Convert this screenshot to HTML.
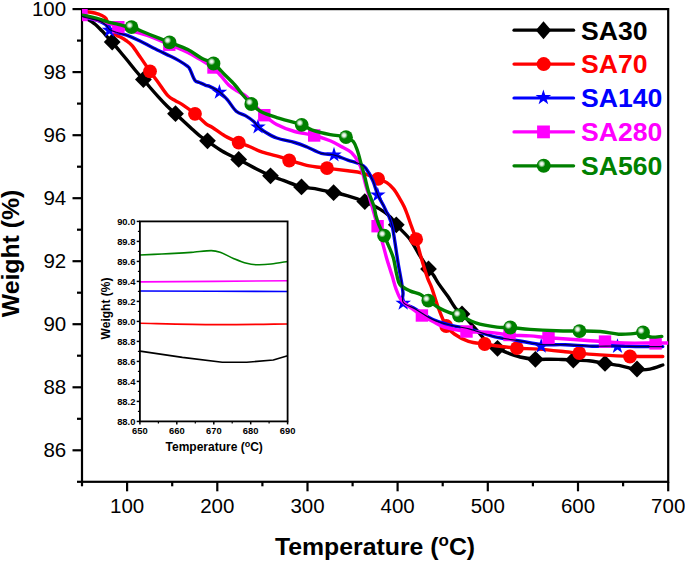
<!DOCTYPE html><html><head><meta charset="utf-8"><style>html,body{margin:0;padding:0;background:#fff;}svg{display:block;}text{font-family:"Liberation Sans",sans-serif;}</style></head><body>
<svg width="685" height="561" viewBox="0 0 685 561">
<defs><radialGradient id="gg" cx="0.36" cy="0.36" r="0.64" fx="0.36" fy="0.36"><stop offset="0" stop-color="#ffffff"/><stop offset="0.18" stop-color="#d8ecd8"/><stop offset="0.42" stop-color="#008000"/><stop offset="1" stop-color="#008000"/></radialGradient>
<clipPath id="pc"><rect x="82.0" y="9.1" width="586.2" height="472.7"/></clipPath></defs>
<rect width="685" height="561" fill="#fff"/>
<rect x="82.0" y="9.1" width="586.2" height="472.7" fill="none" stroke="#000" stroke-width="2.2"/>
<g clip-path="url(#pc)">
<path d="M82.0,16.5 C82.9,16.9 85.2,17.9 87.3,19.1 C89.4,20.3 92.2,21.9 94.6,23.8 C97.0,25.8 99.7,28.6 101.9,30.8 C104.1,33.0 106.0,35.4 107.7,37.3 C109.4,39.2 110.2,39.6 112.2,42.0 C114.2,44.4 117.3,48.2 120.0,51.5 C122.7,54.8 125.7,58.3 128.3,61.5 C130.9,64.7 133.0,67.5 135.5,70.5 C138.0,73.5 140.9,76.6 143.4,79.5 C145.9,82.4 148.0,85.1 150.5,88.0 C153.0,90.9 155.8,94.1 158.6,97.1 C161.3,100.1 164.2,103.2 167.0,106.0 C169.8,108.8 172.5,111.0 175.5,113.7 C178.5,116.5 182.1,119.8 185.0,122.5 C187.9,125.2 190.7,127.8 193.2,130.0 C195.7,132.2 197.6,134.1 200.0,136.0 C202.4,137.9 203.8,138.7 207.5,141.2 C211.2,143.7 216.8,147.9 222.0,151.0 C227.2,154.1 233.0,156.6 238.7,159.5 C244.4,162.4 250.7,166.0 256.0,168.7 C261.3,171.4 265.9,173.6 270.5,175.6 C275.1,177.6 278.2,178.5 283.4,180.4 C288.6,182.3 296.2,185.5 301.5,186.9 C306.8,188.3 310.9,187.9 314.9,188.6 C318.9,189.3 322.3,190.2 325.4,190.9 C328.5,191.6 329.9,191.7 333.6,192.5 C337.3,193.3 342.6,194.3 347.8,195.8 C353.0,197.3 359.5,199.4 364.8,201.6 C370.1,203.8 375.6,206.5 379.9,209.1 C384.2,211.7 387.9,214.5 390.6,217.1 C393.3,219.7 393.1,221.1 396.3,224.8 C399.5,228.5 406.1,234.3 409.9,239.2 C413.6,244.1 415.7,249.1 418.8,254.0 C421.9,258.9 426.0,265.3 428.5,268.9 C431.0,272.5 432.1,273.1 433.7,275.5 C435.3,277.9 436.0,279.9 438.4,283.4 C440.8,286.9 444.9,292.1 447.8,296.3 C450.7,300.5 453.4,305.6 455.8,308.5 C458.2,311.4 459.4,311.2 462.0,313.8 C464.6,316.4 468.2,320.6 471.4,324.2 C474.6,327.8 478.3,332.0 481.4,335.6 C484.5,339.2 487.2,343.5 489.9,345.6 C492.6,347.7 494.6,347.1 497.5,348.3 C500.4,349.5 503.2,351.2 507.0,352.7 C510.8,354.1 515.3,355.9 520.0,357.0 C524.7,358.1 530.3,358.9 535.4,359.3 C540.5,359.7 546.3,359.2 550.7,359.2 C555.1,359.2 558.2,359.4 562.0,359.5 C565.8,359.6 568.8,359.8 573.3,360.0 C577.8,360.2 583.6,360.2 588.9,360.8 C594.2,361.4 599.6,362.6 605.0,363.4 C610.4,364.2 615.7,364.8 621.0,365.8 C626.3,366.8 632.2,368.9 637.0,369.5 C641.8,370.1 645.6,369.9 649.9,369.1 C654.2,368.4 660.6,365.7 662.8,365.0" fill="none" stroke="#000" stroke-width="3.4" stroke-linejoin="round" stroke-linecap="round"/>
<path d="M112.2,33.6L120.6,42.0L112.2,50.4L103.8,42.0Z" fill="#000"/>
<path d="M143.4,71.1L151.8,79.5L143.4,87.9L135.0,79.5Z" fill="#000"/>
<path d="M175.5,105.3L183.9,113.7L175.5,122.1L167.1,113.7Z" fill="#000"/>
<path d="M207.5,132.4L215.9,140.8L207.5,149.2L199.1,140.8Z" fill="#000"/>
<path d="M238.7,151.0L247.1,159.4L238.7,167.8L230.3,159.4Z" fill="#000"/>
<path d="M270.5,167.4L278.9,175.8L270.5,184.2L262.1,175.8Z" fill="#000"/>
<path d="M301.5,178.5L309.9,186.9L301.5,195.3L293.1,186.9Z" fill="#000"/>
<path d="M333.6,184.3L342.0,192.7L333.6,201.1L325.2,192.7Z" fill="#000"/>
<path d="M364.8,193.2L373.2,201.6L364.8,210.0L356.4,201.6Z" fill="#000"/>
<path d="M396.3,216.4L404.7,224.8L396.3,233.2L387.9,224.8Z" fill="#000"/>
<path d="M428.5,260.5L436.9,268.9L428.5,277.3L420.1,268.9Z" fill="#000"/>
<path d="M462.0,305.6L470.4,314.0L462.0,322.4L453.6,314.0Z" fill="#000"/>
<path d="M497.5,339.9L505.9,348.3L497.5,356.7L489.1,348.3Z" fill="#000"/>
<path d="M535.4,350.9L543.8,359.3L535.4,367.7L527.0,359.3Z" fill="#000"/>
<path d="M573.3,351.6L581.7,360.0L573.3,368.4L564.9,360.0Z" fill="#000"/>
<path d="M605.0,355.0L613.4,363.4L605.0,371.8L596.6,363.4Z" fill="#000"/>
<path d="M637.0,360.6L645.4,369.0L637.0,377.4L628.6,369.0Z" fill="#000"/>
</g>
<g clip-path="url(#pc)">
<path d="M82.0,11.5 C82.9,11.6 85.2,11.6 87.3,11.8 C89.4,12.1 92.2,12.4 94.6,13.0 C97.0,13.6 100.0,14.6 101.9,15.5 C103.8,16.4 105.0,17.0 106.0,18.5 C107.0,20.0 107.3,22.4 108.0,24.5 C108.7,26.6 108.6,29.2 110.0,31.0 C111.4,32.8 114.6,34.1 116.5,35.2 C118.4,36.3 119.6,36.6 121.2,37.5 C122.8,38.4 124.2,39.2 126.0,40.5 C127.8,41.8 129.4,42.5 131.9,45.4 C134.4,48.3 137.8,53.6 140.8,57.9 C143.8,62.2 147.0,67.1 150.0,71.3 C153.0,75.5 155.7,78.9 158.6,82.9 C161.5,86.9 164.9,92.4 167.6,95.3 C170.3,98.2 172.6,99.0 175.0,100.5 C177.4,102.0 178.7,102.1 182.0,104.3 C185.3,106.5 191.0,110.5 195.0,113.8 C199.0,117.0 203.1,121.5 206.0,123.8 C208.9,126.1 209.3,125.5 212.5,127.5 C215.7,129.5 220.6,133.5 225.0,136.0 C229.4,138.5 234.5,140.7 238.7,142.5 C242.8,144.3 246.0,145.2 249.9,146.8 C253.8,148.4 257.4,150.5 262.4,152.2 C267.4,153.9 275.5,155.5 280.0,156.8 C284.5,158.1 284.8,158.6 289.2,160.0 C293.6,161.4 300.4,163.9 306.7,165.3 C313.0,166.7 320.1,167.3 327.0,168.2 C333.9,169.1 341.9,170.0 347.8,170.8 C353.7,171.6 357.1,171.8 362.1,173.1 C367.2,174.4 374.0,177.2 378.1,178.8 C382.2,180.4 384.2,181.0 386.8,182.7 C389.4,184.4 391.4,186.4 393.5,188.9 C395.6,191.4 397.5,194.8 399.3,197.8 C401.1,200.8 402.8,203.7 404.2,206.7 C405.6,209.7 406.6,212.6 407.7,215.6 C408.8,218.6 409.4,220.6 410.8,224.5 C412.2,228.4 414.3,233.5 416.1,239.2 C417.9,244.9 419.6,252.3 421.5,258.8 C423.4,265.3 426.0,273.6 427.7,278.4 C429.4,283.2 429.8,282.7 431.7,287.8 C433.6,292.9 436.4,302.8 438.8,309.2 C441.2,315.6 443.6,321.9 446.2,326.0 C448.8,330.1 450.6,331.4 454.3,334.0 C458.0,336.6 463.4,339.6 468.5,341.3 C473.6,343.0 479.5,343.2 484.7,344.0 C489.9,344.8 494.5,345.6 499.9,346.3 C505.3,347.0 510.4,347.7 516.9,348.2 C523.4,348.7 530.8,348.5 538.8,349.1 C546.8,349.7 558.4,351.0 565.1,351.7 C571.9,352.4 573.5,352.7 579.3,353.2 C585.1,353.7 591.6,354.4 600.1,354.9 C608.6,355.4 619.5,356.0 630.0,356.3 C640.5,356.6 657.3,356.5 662.8,356.5" fill="none" stroke="#ff0000" stroke-width="3.4" stroke-linejoin="round" stroke-linecap="round"/>
<circle cx="150.0" cy="71.3" r="6.9" fill="#f00"/>
<circle cx="195.0" cy="113.8" r="6.9" fill="#f00"/>
<circle cx="238.7" cy="142.6" r="6.9" fill="#f00"/>
<circle cx="289.2" cy="160.5" r="6.9" fill="#f00"/>
<circle cx="327.0" cy="168.2" r="6.9" fill="#f00"/>
<circle cx="378.1" cy="178.8" r="6.9" fill="#f00"/>
<circle cx="416.1" cy="239.2" r="6.9" fill="#f00"/>
<circle cx="446.2" cy="326.0" r="6.9" fill="#f00"/>
<circle cx="484.7" cy="344.0" r="6.9" fill="#f00"/>
<circle cx="516.9" cy="348.2" r="6.9" fill="#f00"/>
<circle cx="579.3" cy="353.2" r="6.9" fill="#f00"/>
<circle cx="630.0" cy="356.5" r="6.9" fill="#f00"/>
</g>
<g clip-path="url(#pc)">
<path d="M82.0,16.3 C82.9,16.6 84.6,17.3 87.3,18.0 C90.0,18.7 95.2,19.5 98.2,20.6 C101.2,21.7 103.6,23.0 105.5,24.5 C107.4,26.0 107.7,28.2 109.5,29.5 C111.3,30.8 113.7,31.3 116.5,32.3 C119.3,33.2 122.7,33.8 126.6,35.2 C130.5,36.7 135.6,38.9 140.0,41.0 C144.4,43.1 148.3,45.5 153.3,48.0 C158.3,50.5 165.7,53.9 170.0,56.0 C174.3,58.1 176.0,58.9 178.9,60.6 C181.8,62.3 185.8,64.9 187.7,66.4 C189.5,67.9 188.8,67.2 190.0,69.5 C191.2,71.8 193.2,78.0 194.8,80.2 C196.4,82.4 197.5,81.7 199.3,82.5 C201.1,83.3 203.9,84.6 205.7,85.3 C207.5,86.0 207.7,85.5 210.0,86.6 C212.3,87.7 216.7,89.8 219.6,92.0 C222.5,94.2 224.7,96.7 227.5,99.9 C230.3,103.1 233.1,108.5 236.2,111.2 C239.3,113.9 243.3,114.4 246.2,116.1 C249.1,117.8 251.7,119.8 253.7,121.5 C255.7,123.2 256.2,124.8 258.0,126.5 C259.8,128.2 261.2,129.6 264.3,131.5 C267.4,133.4 271.6,136.2 276.7,138.0 C281.8,139.8 289.6,141.0 294.6,142.5 C299.7,144.0 302.6,145.2 307.0,147.0 C311.4,148.8 316.8,152.0 321.3,153.3 C325.8,154.6 329.6,153.9 334.0,155.0 C338.4,156.1 343.6,158.7 347.8,160.1 C352.0,161.5 356.4,162.4 359.4,163.7 C362.4,165.0 363.5,165.3 365.7,168.1 C367.9,170.9 370.8,176.1 372.8,180.6 C374.8,185.1 376.0,190.7 377.8,194.9 C379.6,199.1 382.1,202.8 383.5,205.6 C384.9,208.4 385.6,210.3 386.5,212.0 C387.4,213.7 387.6,213.2 388.6,215.6 C389.6,218.0 391.2,221.9 392.3,226.7 C393.4,231.5 394.4,238.7 395.3,244.6 C396.2,250.5 397.0,256.2 398.0,262.4 C399.0,268.6 400.7,276.9 401.5,282.0 C402.3,287.1 402.7,289.6 403.0,293.0 C403.3,296.4 401.2,299.8 403.3,302.5 C405.4,305.2 410.7,306.3 415.7,309.2 C420.7,312.1 427.6,317.2 433.5,319.9 C439.4,322.6 445.4,323.8 451.3,325.3 C457.2,326.8 464.7,327.8 469.1,328.8 C473.5,329.8 473.2,330.2 477.5,331.5 C481.8,332.8 487.7,335.2 495.0,336.8 C502.3,338.4 513.5,339.9 521.3,341.2 C529.0,342.5 534.2,343.9 541.5,344.5 C548.8,345.1 556.7,344.4 565.1,344.7 C573.5,345.0 583.5,346.0 592.1,346.2 C600.8,346.4 609.0,345.9 617.0,346.0 C625.0,346.1 632.7,346.5 640.3,346.6 C647.9,346.7 659.0,346.6 662.8,346.6" fill="none" stroke="#0000ff" stroke-width="3.4" stroke-linejoin="round" stroke-linecap="round"/>
<polygon points="109.5,22.1 111.3,27.8 117.3,27.8 112.5,31.3 114.3,36.9 109.5,33.4 104.7,36.9 106.5,31.3 101.7,27.8 107.7,27.8" fill="#00f"/>
<polygon points="219.4,84.0 221.2,89.7 227.2,89.7 222.4,93.2 224.2,98.8 219.4,95.3 214.6,98.8 216.4,93.2 211.6,89.7 217.6,89.7" fill="#00f"/>
<polygon points="258.0,118.8 259.8,124.5 265.8,124.5 261.0,128.0 262.8,133.6 258.0,130.1 253.2,133.6 255.0,128.0 250.2,124.5 256.2,124.5" fill="#00f"/>
<polygon points="334.0,146.8 335.8,152.5 341.8,152.5 337.0,156.0 338.8,161.6 334.0,158.1 329.2,161.6 331.0,156.0 326.2,152.5 332.2,152.5" fill="#00f"/>
<polygon points="377.8,186.7 379.6,192.4 385.6,192.4 380.8,195.9 382.6,201.5 377.8,198.0 373.0,201.5 374.8,195.9 370.0,192.4 376.0,192.4" fill="#00f"/>
<polygon points="403.2,295.0 405.0,300.7 411.0,300.7 406.2,304.2 408.0,309.8 403.2,306.3 398.4,309.8 400.2,304.2 395.4,300.7 401.4,300.7" fill="#00f"/>
<polygon points="541.2,338.0 543.0,343.7 549.0,343.7 544.2,347.2 546.0,352.8 541.2,349.3 536.4,352.8 538.2,347.2 533.4,343.7 539.4,343.7" fill="#00f"/>
<polygon points="617.5,338.3 619.3,344.0 625.3,344.0 620.5,347.5 622.3,353.1 617.5,349.6 612.7,353.1 614.5,347.5 609.7,344.0 615.7,344.0" fill="#00f"/>
</g>
<g clip-path="url(#pc)">
<path d="M82.0,15.0 C82.9,15.4 84.6,16.6 87.3,17.5 C90.0,18.4 94.5,19.3 98.2,20.3 C101.9,21.3 105.9,22.4 109.2,23.5 C112.5,24.6 114.8,26.0 118.3,27.2 C121.8,28.4 124.7,29.0 130.0,30.5 C135.3,32.0 143.4,34.0 150.0,36.3 C156.6,38.6 163.0,41.8 169.3,44.5 C175.6,47.2 182.7,50.0 187.8,52.5 C192.9,55.0 195.8,56.9 200.0,59.4 C204.2,61.9 209.5,64.7 213.0,67.5 C216.5,70.3 218.6,73.3 221.2,76.2 C223.8,79.1 226.0,82.5 228.7,85.0 C231.4,87.5 234.5,89.3 237.4,91.2 C240.3,93.1 243.3,93.8 246.2,96.2 C249.1,98.6 252.0,102.4 255.0,105.5 C258.0,108.6 260.7,111.8 264.3,115.0 C267.9,118.2 271.6,121.8 276.7,124.5 C281.8,127.2 288.4,129.7 294.6,131.5 C300.9,133.3 308.3,133.9 314.2,135.5 C320.1,137.1 325.8,139.0 330.2,140.8 C334.6,142.6 337.2,144.2 340.7,146.2 C344.2,148.1 348.4,149.7 351.4,152.5 C354.4,155.3 356.9,159.3 358.8,162.8 C360.7,166.3 361.6,169.6 362.8,173.5 C364.0,177.4 364.9,182.2 366.0,186.0 C367.1,189.8 368.1,192.8 369.2,196.6 C370.3,200.4 371.4,204.2 372.8,209.1 C374.2,214.0 375.9,220.3 377.6,226.2 C379.3,232.1 381.4,238.9 383.0,244.6 C384.6,250.3 385.7,255.3 387.3,260.6 C388.9,265.9 390.9,271.9 392.4,276.6 C393.8,281.3 394.5,284.9 396.0,288.8 C397.5,292.8 399.0,297.2 401.4,300.3 C403.8,303.4 406.9,304.9 410.3,307.4 C413.7,309.9 418.0,313.1 421.9,315.5 C425.8,317.9 429.8,319.8 433.5,321.7 C437.2,323.6 438.7,325.4 444.2,327.0 C449.7,328.6 458.9,330.6 466.5,331.5 C474.1,332.4 482.7,331.8 489.9,332.4 C497.1,333.0 502.8,334.4 509.5,335.0 C516.2,335.6 523.6,335.4 530.1,335.9 C536.6,336.3 539.5,337.0 548.5,337.7 C557.5,338.4 574.7,339.6 584.1,340.3 C593.5,341.0 598.3,341.4 605.0,341.8 C611.7,342.2 615.8,342.8 624.2,343.0 C632.6,343.2 648.3,343.0 655.6,343.0 C662.9,343.0 665.9,343.0 668.0,343.0" fill="none" stroke="#ff00ff" stroke-width="3.4" stroke-linejoin="round" stroke-linecap="round"/>
<rect x="75.3" y="8.8" width="12.4" height="12.4" fill="#f0f"/>
<rect x="112.1" y="21.0" width="12.4" height="12.4" fill="#f0f"/>
<rect x="163.1" y="38.5" width="12.4" height="12.4" fill="#f0f"/>
<rect x="207.3" y="61.3" width="12.4" height="12.4" fill="#f0f"/>
<rect x="258.1" y="109.0" width="12.4" height="12.4" fill="#f0f"/>
<rect x="308.0" y="129.3" width="12.4" height="12.4" fill="#f0f"/>
<rect x="371.4" y="220.0" width="12.4" height="12.4" fill="#f0f"/>
<rect x="415.7" y="309.3" width="12.4" height="12.4" fill="#f0f"/>
<rect x="460.3" y="325.3" width="12.4" height="12.4" fill="#f0f"/>
<rect x="503.3" y="328.8" width="12.4" height="12.4" fill="#f0f"/>
<rect x="542.3" y="331.5" width="12.4" height="12.4" fill="#f0f"/>
<rect x="598.8" y="335.4" width="12.4" height="12.4" fill="#f0f"/>
<rect x="649.4" y="337.2" width="12.4" height="12.4" fill="#f0f"/>
</g>
<g clip-path="url(#pc)">
<path d="M82.0,15.2 C83.5,15.5 87.7,16.2 91.0,17.0 C94.3,17.8 98.9,19.1 101.9,20.0 C104.9,20.9 106.8,21.8 109.2,22.4 C111.6,23.0 114.0,23.3 116.5,23.9 C119.0,24.5 122.0,25.4 124.5,26.0 C127.0,26.6 127.3,25.8 131.5,27.2 C135.7,28.6 143.4,32.0 149.7,34.5 C156.0,37.0 163.2,39.8 169.5,42.3 C175.8,44.8 182.4,46.9 187.8,49.6 C193.2,52.3 197.8,56.2 202.1,58.5 C206.4,60.8 209.7,60.8 213.5,63.5 C217.3,66.2 221.4,71.4 225.0,75.0 C228.6,78.6 232.0,81.8 234.9,85.0 C237.8,88.2 239.7,91.3 242.4,94.5 C245.1,97.7 248.2,101.2 251.3,104.0 C254.4,106.8 256.5,109.2 260.7,111.5 C264.9,113.8 269.9,115.4 276.7,117.6 C283.5,119.8 295.8,122.7 301.7,124.8 C307.6,126.9 307.6,128.5 312.4,130.1 C317.1,131.7 324.7,133.5 330.2,134.6 C335.7,135.7 341.7,135.7 345.5,136.8 C349.3,137.9 351.2,139.2 353.2,141.4 C355.2,143.7 355.9,146.4 357.3,150.3 C358.7,154.2 360.1,160.2 361.3,164.6 C362.6,169.0 363.6,172.6 364.8,177.0 C366.0,181.4 366.9,186.5 368.4,191.3 C369.9,196.1 372.4,201.5 373.7,205.6 C375.0,209.7 375.1,212.8 376.0,216.0 C376.9,219.2 377.6,221.7 379.0,225.0 C380.4,228.3 382.3,231.8 384.1,235.7 C385.9,239.5 388.0,244.2 389.6,248.1 C391.2,251.9 392.4,254.3 393.6,258.8 C394.8,263.3 395.7,270.6 396.8,274.9 C397.9,279.2 397.8,281.9 400.0,284.6 C402.2,287.3 406.5,289.2 409.9,290.9 C413.3,292.5 417.6,292.9 420.6,294.5 C423.6,296.1 425.0,298.1 428.0,300.3 C431.0,302.5 435.2,305.8 438.8,307.8 C442.4,309.9 446.1,311.4 449.5,312.6 C452.9,313.9 454.6,313.6 459.0,315.3 C463.4,317.0 469.4,320.8 475.7,322.8 C482.0,324.8 491.2,326.3 497.0,327.1 C502.8,327.9 504.8,327.1 510.3,327.5 C515.8,327.9 522.4,328.9 530.1,329.4 C537.8,329.9 548.2,330.4 556.4,330.7 C564.6,331.0 572.2,330.9 579.5,331.0 C586.8,331.1 593.6,331.0 600.1,331.5 C606.6,332.0 613.0,333.8 618.5,334.2 C624.0,334.6 629.2,333.9 633.3,333.6 C637.4,333.3 640.1,332.0 643.0,332.6 C645.9,333.2 647.3,336.4 650.4,337.0 C653.5,337.6 659.9,336.5 661.8,336.4" fill="none" stroke="#008000" stroke-width="3.4" stroke-linejoin="round" stroke-linecap="round"/>
<circle cx="131.5" cy="27.2" r="6.9" fill="url(#gg)"/>
<circle cx="169.5" cy="42.3" r="6.9" fill="url(#gg)"/>
<circle cx="213.5" cy="63.5" r="6.9" fill="url(#gg)"/>
<circle cx="251.3" cy="104.0" r="6.9" fill="url(#gg)"/>
<circle cx="301.7" cy="124.8" r="6.9" fill="url(#gg)"/>
<circle cx="346.0" cy="137.2" r="6.9" fill="url(#gg)"/>
<circle cx="384.1" cy="235.7" r="6.9" fill="url(#gg)"/>
<circle cx="428.3" cy="300.6" r="6.9" fill="url(#gg)"/>
<circle cx="459.0" cy="315.5" r="6.9" fill="url(#gg)"/>
<circle cx="510.3" cy="327.5" r="6.9" fill="url(#gg)"/>
<circle cx="579.5" cy="331.2" r="6.9" fill="url(#gg)"/>
<circle cx="643.0" cy="332.5" r="6.9" fill="url(#gg)"/>
</g>
<g clip-path="url(#pc)"><path d="M82.0,16.3 C82.9,16.6 84.6,17.3 87.3,18.0 C90.0,18.7 95.2,19.5 98.2,20.6 C101.2,21.7 103.6,23.0 105.5,24.5 C107.4,26.0 107.7,28.2 109.5,29.5 C111.3,30.8 113.7,31.3 116.5,32.3 C119.3,33.2 122.7,33.8 126.6,35.2 C130.5,36.7 135.6,38.9 140.0,41.0 C144.4,43.1 148.3,45.5 153.3,48.0 C158.3,50.5 165.7,53.9 170.0,56.0 C174.3,58.1 176.0,58.9 178.9,60.6 C181.8,62.3 185.8,64.9 187.7,66.4 C189.5,67.9 188.8,67.2 190.0,69.5 C191.2,71.8 193.2,78.0 194.8,80.2 C196.4,82.4 197.5,81.7 199.3,82.5 C201.1,83.3 203.9,84.6 205.7,85.3 C207.5,86.0 207.7,85.5 210.0,86.6 C212.3,87.7 216.7,89.8 219.6,92.0 C222.5,94.2 224.7,96.7 227.5,99.9 C230.3,103.1 233.1,108.5 236.2,111.2 C239.3,113.9 243.3,114.4 246.2,116.1 C249.1,117.8 251.7,119.8 253.7,121.5 C255.7,123.2 256.2,124.8 258.0,126.5 C259.8,128.2 261.2,129.6 264.3,131.5 C267.4,133.4 271.6,136.2 276.7,138.0 C281.8,139.8 289.6,141.0 294.6,142.5 C299.7,144.0 302.6,145.2 307.0,147.0 C311.4,148.8 316.8,152.0 321.3,153.3 C325.8,154.6 329.6,153.9 334.0,155.0 C338.4,156.1 343.6,158.7 347.8,160.1 C352.0,161.5 356.4,162.4 359.4,163.7 C362.4,165.0 363.5,165.3 365.7,168.1 C367.9,170.9 370.8,176.1 372.8,180.6 C374.8,185.1 376.0,190.7 377.8,194.9 C379.6,199.1 382.1,202.8 383.5,205.6 C384.9,208.4 385.6,210.3 386.5,212.0 C387.4,213.7 387.6,213.2 388.6,215.6 C389.6,218.0 391.2,221.9 392.3,226.7 C393.4,231.5 394.4,238.7 395.3,244.6 C396.2,250.5 397.0,256.2 398.0,262.4 C399.0,268.6 400.7,276.9 401.5,282.0 C402.3,287.1 402.7,289.6 403.0,293.0 C403.3,296.4 401.2,299.8 403.3,302.5 C405.4,305.2 410.7,306.3 415.7,309.2 C420.7,312.1 427.6,317.2 433.5,319.9 C439.4,322.6 445.4,323.8 451.3,325.3 C457.2,326.8 464.7,327.8 469.1,328.8 C473.5,329.8 473.2,330.2 477.5,331.5 C481.8,332.8 487.7,335.2 495.0,336.8 C502.3,338.4 513.5,339.9 521.3,341.2 C529.0,342.5 534.2,343.9 541.5,344.5 C548.8,345.1 556.7,344.4 565.1,344.7 C573.5,345.0 583.5,346.0 592.1,346.2 C600.8,346.4 609.0,345.9 617.0,346.0 C625.0,346.1 632.7,346.5 640.3,346.6 C647.9,346.7 659.0,346.6 662.8,346.6" fill="none" stroke="#000040" stroke-width="1.2" stroke-linejoin="round" stroke-linecap="round"/></g>
<line x1="77.0" y1="481.8" x2="82.0" y2="481.8" stroke="#000" stroke-width="2.2"/>
<line x1="72.5" y1="450.3" x2="82.0" y2="450.3" stroke="#000" stroke-width="2.2"/>
<text x="66.2" y="456.9" font-size="20.5" text-anchor="end">86</text>
<line x1="77.0" y1="418.8" x2="82.0" y2="418.8" stroke="#000" stroke-width="2.2"/>
<line x1="72.5" y1="387.3" x2="82.0" y2="387.3" stroke="#000" stroke-width="2.2"/>
<text x="66.2" y="393.9" font-size="20.5" text-anchor="end">88</text>
<line x1="77.0" y1="355.7" x2="82.0" y2="355.7" stroke="#000" stroke-width="2.2"/>
<line x1="72.5" y1="324.2" x2="82.0" y2="324.2" stroke="#000" stroke-width="2.2"/>
<text x="66.2" y="330.8" font-size="20.5" text-anchor="end">90</text>
<line x1="77.0" y1="292.7" x2="82.0" y2="292.7" stroke="#000" stroke-width="2.2"/>
<line x1="72.5" y1="261.2" x2="82.0" y2="261.2" stroke="#000" stroke-width="2.2"/>
<text x="66.2" y="267.8" font-size="20.5" text-anchor="end">92</text>
<line x1="77.0" y1="229.7" x2="82.0" y2="229.7" stroke="#000" stroke-width="2.2"/>
<line x1="72.5" y1="198.2" x2="82.0" y2="198.2" stroke="#000" stroke-width="2.2"/>
<text x="66.2" y="204.8" font-size="20.5" text-anchor="end">94</text>
<line x1="77.0" y1="166.7" x2="82.0" y2="166.7" stroke="#000" stroke-width="2.2"/>
<line x1="72.5" y1="135.2" x2="82.0" y2="135.2" stroke="#000" stroke-width="2.2"/>
<text x="66.2" y="141.8" font-size="20.5" text-anchor="end">96</text>
<line x1="77.0" y1="103.6" x2="82.0" y2="103.6" stroke="#000" stroke-width="2.2"/>
<line x1="72.5" y1="72.1" x2="82.0" y2="72.1" stroke="#000" stroke-width="2.2"/>
<text x="66.2" y="78.7" font-size="20.5" text-anchor="end">98</text>
<line x1="77.0" y1="40.6" x2="82.0" y2="40.6" stroke="#000" stroke-width="2.2"/>
<line x1="72.5" y1="9.1" x2="82.0" y2="9.1" stroke="#000" stroke-width="2.2"/>
<text x="66.2" y="15.7" font-size="20.5" text-anchor="end">100</text>
<line x1="82.0" y1="481.8" x2="82.0" y2="486.3" stroke="#000" stroke-width="2.2"/>
<line x1="127.1" y1="481.8" x2="127.1" y2="491.3" stroke="#000" stroke-width="2.2"/>
<text x="127.1" y="513.1" font-size="20.5" text-anchor="middle">100</text>
<line x1="172.2" y1="481.8" x2="172.2" y2="486.3" stroke="#000" stroke-width="2.2"/>
<line x1="217.3" y1="481.8" x2="217.3" y2="491.3" stroke="#000" stroke-width="2.2"/>
<text x="217.3" y="513.1" font-size="20.5" text-anchor="middle">200</text>
<line x1="262.4" y1="481.8" x2="262.4" y2="486.3" stroke="#000" stroke-width="2.2"/>
<line x1="307.5" y1="481.8" x2="307.5" y2="491.3" stroke="#000" stroke-width="2.2"/>
<text x="307.5" y="513.1" font-size="20.5" text-anchor="middle">300</text>
<line x1="352.6" y1="481.8" x2="352.6" y2="486.3" stroke="#000" stroke-width="2.2"/>
<line x1="397.6" y1="481.8" x2="397.6" y2="491.3" stroke="#000" stroke-width="2.2"/>
<text x="397.6" y="513.1" font-size="20.5" text-anchor="middle">400</text>
<line x1="442.7" y1="481.8" x2="442.7" y2="486.3" stroke="#000" stroke-width="2.2"/>
<line x1="487.8" y1="481.8" x2="487.8" y2="491.3" stroke="#000" stroke-width="2.2"/>
<text x="487.8" y="513.1" font-size="20.5" text-anchor="middle">500</text>
<line x1="532.9" y1="481.8" x2="532.9" y2="486.3" stroke="#000" stroke-width="2.2"/>
<line x1="578.0" y1="481.8" x2="578.0" y2="491.3" stroke="#000" stroke-width="2.2"/>
<text x="578.0" y="513.1" font-size="20.5" text-anchor="middle">600</text>
<line x1="623.1" y1="481.8" x2="623.1" y2="486.3" stroke="#000" stroke-width="2.2"/>
<line x1="668.2" y1="481.8" x2="668.2" y2="491.3" stroke="#000" stroke-width="2.2"/>
<text x="668.2" y="513.1" font-size="20.5" text-anchor="middle">700</text>
<text x="375" y="554.7" font-size="24.8" font-weight="bold" text-anchor="middle">Temperature (<tspan font-size="17" dy="-9">o</tspan><tspan dy="9">C)</tspan></text>
<text transform="translate(18.7,253.5) rotate(-90)" x="0" y="0" font-size="24.8" font-weight="bold" text-anchor="middle">Weight (%)</text>
<line x1="514" y1="30.2" x2="573.6" y2="30.2" stroke="#000" stroke-width="3.2" stroke-linecap="round"/>
<path d="M543.5,21.2L551.2,30.2L543.5,39.2L535.8,30.2Z" fill="#000"/>
<text x="581" y="39.5" font-size="26.6" font-weight="bold" fill="#000">SA30</text>
<line x1="514" y1="64.1" x2="573.6" y2="64.1" stroke="#ff0000" stroke-width="3.2" stroke-linecap="round"/>
<circle cx="543.7" cy="64.1" r="7.0" fill="#f00"/>
<text x="581" y="73.4" font-size="26.6" font-weight="bold" fill="#ff0000">SA70</text>
<line x1="514" y1="98.0" x2="573.6" y2="98.0" stroke="#0000ff" stroke-width="3.2" stroke-linecap="round"/>
<polygon points="543.4,89.4 545.2,95.1 551.2,95.1 546.4,98.6 548.2,104.2 543.4,100.7 538.6,104.2 540.4,98.6 535.6,95.1 541.6,95.1" fill="#00f"/>
<text x="581" y="107.3" font-size="26.6" font-weight="bold" fill="#0000ff">SA140</text>
<line x1="514" y1="131.9" x2="573.6" y2="131.9" stroke="#ff00ff" stroke-width="3.2" stroke-linecap="round"/>
<rect x="537.1" y="125.5" width="12.8" height="12.8" fill="#f0f"/>
<text x="581" y="141.2" font-size="26.6" font-weight="bold" fill="#ff00ff">SA280</text>
<line x1="514" y1="165.8" x2="573.6" y2="165.8" stroke="#008000" stroke-width="3.2" stroke-linecap="round"/>
<circle cx="543.7" cy="165.8" r="7.0" fill="url(#gg)"/>
<text x="581" y="175.1" font-size="26.6" font-weight="bold" fill="#008000">SA560</text>
<g fill="none" stroke-linejoin="round">
<path d="M140.0,351.1 L182.4,357.4 L222.3,362.2 L246.7,362.2 L273.3,360.0 L287.6,355.8" stroke="#000" stroke-width="1.6"/>
<path d="M140.0,323.3 C152.6,323.5 191.1,324.5 215.7,324.6 C240.3,324.7 275.6,324.1 287.6,324.0" stroke="#ff0000" stroke-width="1.6"/>
<path d="M140.0,291.0 C164.6,291.1 263.0,291.4 287.6,291.5" stroke="#0000ff" stroke-width="1.6"/>
<path d="M140.0,281.9 C164.6,281.7 263.0,281.0 287.6,280.8" stroke="#ff00ff" stroke-width="1.6"/>
<path d="M140.0,255.0 C143.7,254.8 154.6,254.3 161.9,254.0 C169.2,253.7 178.3,253.2 183.8,252.9 C189.3,252.6 190.2,252.4 194.8,252.0 C199.4,251.6 207.0,250.6 211.2,250.6 C215.4,250.6 216.4,250.9 220.1,252.2 C223.8,253.5 229.0,256.5 233.4,258.4 C237.8,260.2 242.6,262.2 246.7,263.3 C250.8,264.4 253.7,264.7 257.8,264.8 C261.9,264.9 266.1,264.6 271.1,264.0 C276.1,263.4 284.9,261.9 287.6,261.5" stroke="#008000" stroke-width="1.6"/>
</g>
<rect x="139.9" y="221.4" width="147.7" height="200.0" fill="none" stroke="#000" stroke-width="1.8"/>
<line x1="136.7" y1="221.4" x2="139.9" y2="221.4" stroke="#000" stroke-width="1.5"/>
<text x="135.4" y="224.6" font-size="9.4" font-weight="bold" text-anchor="end">90.0</text>
<line x1="137.9" y1="231.4" x2="139.9" y2="231.4" stroke="#000" stroke-width="1.2"/>
<line x1="136.7" y1="241.4" x2="139.9" y2="241.4" stroke="#000" stroke-width="1.5"/>
<text x="135.4" y="244.6" font-size="9.4" font-weight="bold" text-anchor="end">89.8</text>
<line x1="137.9" y1="251.4" x2="139.9" y2="251.4" stroke="#000" stroke-width="1.2"/>
<line x1="136.7" y1="261.4" x2="139.9" y2="261.4" stroke="#000" stroke-width="1.5"/>
<text x="135.4" y="264.6" font-size="9.4" font-weight="bold" text-anchor="end">89.6</text>
<line x1="137.9" y1="271.4" x2="139.9" y2="271.4" stroke="#000" stroke-width="1.2"/>
<line x1="136.7" y1="281.4" x2="139.9" y2="281.4" stroke="#000" stroke-width="1.5"/>
<text x="135.4" y="284.6" font-size="9.4" font-weight="bold" text-anchor="end">89.4</text>
<line x1="137.9" y1="291.4" x2="139.9" y2="291.4" stroke="#000" stroke-width="1.2"/>
<line x1="136.7" y1="301.4" x2="139.9" y2="301.4" stroke="#000" stroke-width="1.5"/>
<text x="135.4" y="304.6" font-size="9.4" font-weight="bold" text-anchor="end">89.2</text>
<line x1="137.9" y1="311.4" x2="139.9" y2="311.4" stroke="#000" stroke-width="1.2"/>
<line x1="136.7" y1="321.4" x2="139.9" y2="321.4" stroke="#000" stroke-width="1.5"/>
<text x="135.4" y="324.6" font-size="9.4" font-weight="bold" text-anchor="end">89.0</text>
<line x1="137.9" y1="331.4" x2="139.9" y2="331.4" stroke="#000" stroke-width="1.2"/>
<line x1="136.7" y1="341.4" x2="139.9" y2="341.4" stroke="#000" stroke-width="1.5"/>
<text x="135.4" y="344.6" font-size="9.4" font-weight="bold" text-anchor="end">88.8</text>
<line x1="137.9" y1="351.4" x2="139.9" y2="351.4" stroke="#000" stroke-width="1.2"/>
<line x1="136.7" y1="361.4" x2="139.9" y2="361.4" stroke="#000" stroke-width="1.5"/>
<text x="135.4" y="364.6" font-size="9.4" font-weight="bold" text-anchor="end">88.6</text>
<line x1="137.9" y1="371.4" x2="139.9" y2="371.4" stroke="#000" stroke-width="1.2"/>
<line x1="136.7" y1="381.4" x2="139.9" y2="381.4" stroke="#000" stroke-width="1.5"/>
<text x="135.4" y="384.6" font-size="9.4" font-weight="bold" text-anchor="end">88.4</text>
<line x1="137.9" y1="391.4" x2="139.9" y2="391.4" stroke="#000" stroke-width="1.2"/>
<line x1="136.7" y1="401.4" x2="139.9" y2="401.4" stroke="#000" stroke-width="1.5"/>
<text x="135.4" y="404.6" font-size="9.4" font-weight="bold" text-anchor="end">88.2</text>
<line x1="137.9" y1="411.4" x2="139.9" y2="411.4" stroke="#000" stroke-width="1.2"/>
<line x1="136.7" y1="421.4" x2="139.9" y2="421.4" stroke="#000" stroke-width="1.5"/>
<text x="135.4" y="424.6" font-size="9.4" font-weight="bold" text-anchor="end">88.0</text>
<line x1="139.9" y1="421.4" x2="139.9" y2="424.4" stroke="#000" stroke-width="1.5"/>
<text x="139.9" y="433.6" font-size="9.4" font-weight="bold" text-anchor="middle">650</text>
<line x1="158.4" y1="421.4" x2="158.4" y2="423.4" stroke="#000" stroke-width="1.2"/>
<line x1="176.8" y1="421.4" x2="176.8" y2="424.4" stroke="#000" stroke-width="1.5"/>
<text x="176.8" y="433.6" font-size="9.4" font-weight="bold" text-anchor="middle">660</text>
<line x1="195.3" y1="421.4" x2="195.3" y2="423.4" stroke="#000" stroke-width="1.2"/>
<line x1="213.8" y1="421.4" x2="213.8" y2="424.4" stroke="#000" stroke-width="1.5"/>
<text x="213.8" y="433.6" font-size="9.4" font-weight="bold" text-anchor="middle">670</text>
<line x1="232.2" y1="421.4" x2="232.2" y2="423.4" stroke="#000" stroke-width="1.2"/>
<line x1="250.7" y1="421.4" x2="250.7" y2="424.4" stroke="#000" stroke-width="1.5"/>
<text x="250.7" y="433.6" font-size="9.4" font-weight="bold" text-anchor="middle">680</text>
<line x1="269.1" y1="421.4" x2="269.1" y2="423.4" stroke="#000" stroke-width="1.2"/>
<line x1="287.6" y1="421.4" x2="287.6" y2="424.4" stroke="#000" stroke-width="1.5"/>
<text x="287.6" y="433.6" font-size="9.4" font-weight="bold" text-anchor="middle">690</text>
<text x="214.2" y="451" font-size="12" font-weight="bold" text-anchor="middle">Temperature (<tspan font-size="9" dy="-4.2">o</tspan><tspan dy="4.2">C)</tspan></text>
<text transform="translate(109.6,308.5) rotate(-90)" font-size="12" font-weight="bold" text-anchor="middle">Weight (%)</text>
</svg></body></html>
